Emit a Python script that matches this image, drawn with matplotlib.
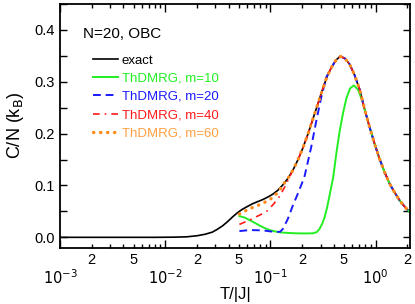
import numpy as np
import matplotlib
matplotlib.use('Agg')
import matplotlib.pyplot as plt
from matplotlib.ticker import FixedLocator, FuncFormatter, MultipleLocator

plt.rcParams['font.family'] = ['Liberation Sans', 'DejaVu Sans']

# high-T part, where all curves coincide
T_tail = [0.705, 0.785, 0.877, 0.978, 1.09, 1.22, 1.36, 1.51, 1.69, 1.89, 2.12]
C_tail = [0.285, 0.247, 0.212, 0.180, 0.151, 0.125, 0.103, 0.087, 0.071, 0.059, 0.048]

# exact result
T_exact = [0.001, 0.008, 0.012, 0.016, 0.020, 0.024, 0.028, 0.031, 0.035, 0.039,
           0.044, 0.049, 0.054, 0.061, 0.068, 0.076, 0.085, 0.095, 0.105, 0.118,
           0.131, 0.147, 0.163, 0.183, 0.203, 0.228, 0.253, 0.283, 0.315, 0.345,
           0.378, 0.42, 0.461, 0.51, 0.565, 0.63] + T_tail
C_exact = [0.0, 0.0, 0.0003, 0.001, 0.003, 0.006, 0.010, 0.015, 0.022, 0.030,
           0.040, 0.048, 0.054, 0.060, 0.065, 0.069, 0.073, 0.078, 0.083, 0.091,
           0.101, 0.114, 0.129, 0.150, 0.172, 0.200, 0.228, 0.258, 0.287, 0.310,
           0.327, 0.342, 0.349, 0.345, 0.334, 0.313] + C_tail

# ThDMRG m=10
T_m10 = [0.0507, 0.057, 0.063, 0.071, 0.079, 0.088, 0.098, 0.11, 0.123, 0.145,
         0.176, 0.21, 0.252, 0.275, 0.292, 0.31, 0.327, 0.345, 0.364, 0.395,
         0.425, 0.455, 0.49, 0.527, 0.57, 0.62, 0.68, 0.75] + T_tail[1:]
C_m10 = [0.041, 0.038, 0.0335, 0.028, 0.0226, 0.018, 0.014, 0.0115, 0.0096, 0.0085,
         0.0077, 0.0075, 0.0077, 0.010, 0.016, 0.026, 0.0386, 0.057, 0.080, 0.116,
         0.165, 0.205, 0.240, 0.268, 0.287, 0.293, 0.285, 0.262] + C_tail[1:]

# ThDMRG m=20
T_m20 = [0.0507, 0.063, 0.084, 0.113, 0.124, 0.131, 0.146, 0.163, 0.182, 0.21,
         0.244, 0.273, 0.304, 0.34, 0.378, 0.42, 0.461, 0.51, 0.565, 0.63] + T_tail
C_m20 = [0.012, 0.014, 0.0135, 0.010, 0.011, 0.016, 0.035, 0.061, 0.084, 0.116,
         0.174, 0.225, 0.270, 0.309, 0.327, 0.342, 0.349, 0.345, 0.334, 0.313] + C_tail

# ThDMRG m=40
T_m40 = [0.0507, 0.063, 0.074, 0.091, 0.107, 0.123, 0.139, 0.163, 0.183, 0.203,
         0.228, 0.253, 0.283, 0.315, 0.345, 0.378, 0.42, 0.461, 0.51, 0.565, 0.63] + T_tail
C_m40 = [0.025, 0.033, 0.040, 0.049, 0.064, 0.080, 0.100, 0.129, 0.150, 0.172,
         0.200, 0.228, 0.258, 0.287, 0.310, 0.327, 0.342, 0.349, 0.345, 0.334, 0.313] + C_tail

# ThDMRG m=60
T_m60 = [0.0507, 0.063, 0.079, 0.098, 0.12, 0.131, 0.147, 0.163, 0.183, 0.203,
         0.228, 0.253, 0.283, 0.315, 0.345, 0.378, 0.42, 0.461, 0.51, 0.565, 0.63] + T_tail
C_m60 = [0.045, 0.055, 0.063, 0.072, 0.088, 0.101, 0.114, 0.129, 0.150, 0.172,
         0.200, 0.228, 0.258, 0.287, 0.310, 0.327, 0.342, 0.349, 0.345, 0.334, 0.313] + C_tail

fig = plt.figure(figsize=(4.15, 3.04), dpi=100)
ax = fig.add_axes([60/415, 1-247.7/304, 350/415, 243.7/304])

ax.plot(T_exact, C_exact, color='black', lw=1.2, label='exact')
ax.plot(T_m10, C_m10, color='#22ee22', lw=1.4, label='ThDMRG, m=10')
ax.plot(T_m20, C_m20, color='#1a1aff', lw=1.4, ls=(0, (4, 2.5)), label='ThDMRG, m=20')
ax.plot(T_m40, C_m40, color='#ff1a1a', lw=1.2, ls=(0, (4, 3, 1, 3)), label='ThDMRG, m=40')
ax.plot(T_m60, C_m60, color='#ff8c1a', lw=2.4, ls=(0, (0.1, 2.0)), dash_capstyle='round',
        label='ThDMRG, m=60')

ax.set_xscale('log')
ax.set_xlim(1e-3, 2.12)
ax.set_ylim(-0.02, 0.45)

ax.xaxis.set_major_locator(FixedLocator([1e-3, 1e-2, 1e-1, 1e0]))
minors = [m * 10.0**e for e in (-3, -2, -1, 0) for m in range(2, 10)]
ax.xaxis.set_minor_locator(FixedLocator(minors))


def major_fmt(v, pos):
    return r'$10^{%d}$' % int(round(np.log10(v)))


def minor_fmt(v, pos):
    m = int(round(v / 10.0**np.floor(np.log10(v) + 1e-9)))
    return str(m) if m in (2, 5) else ''


ax.xaxis.set_major_formatter(FuncFormatter(major_fmt))
ax.xaxis.set_minor_formatter(FuncFormatter(minor_fmt))
ax.yaxis.set_major_locator(MultipleLocator(0.1))
ax.yaxis.set_minor_locator(MultipleLocator(0.05))
ax.yaxis.set_major_formatter(FuncFormatter(lambda v, p: '%.1f' % v))

ax.tick_params(which='both', direction='in', top=True, right=True, labelsize=10.5, width=1)
ax.tick_params(axis='x', which='major', length=6, pad=15)
ax.tick_params(axis='x', which='minor', length=3, pad=4)
ax.tick_params(axis='y', which='both', length=5, pad=4)
for s in ax.spines.values():
    s.set_linewidth(1.3)

ax.set_ylabel(r'C/N (k$_\mathrm{B}$)', fontsize=13, labelpad=6)
ax.set_xlabel('T/|J|', fontsize=12, labelpad=0)

ax.text(0.065, 0.875, 'N=20, OBC', transform=ax.transAxes, fontsize=11, va='center')
leg = ax.legend(loc='upper left', bbox_to_anchor=(0.08, 0.815), frameon=False, fontsize=9.5,
                handlelength=1.85, handletextpad=0.3, labelspacing=0.45, borderaxespad=0)
for t, c in zip(leg.get_texts(), ['black', '#22ee22', '#1a1aff', '#ff1a1a', '#ffa040']):
    t.set_color(c)

fig.savefig('out.png', dpi=100)
